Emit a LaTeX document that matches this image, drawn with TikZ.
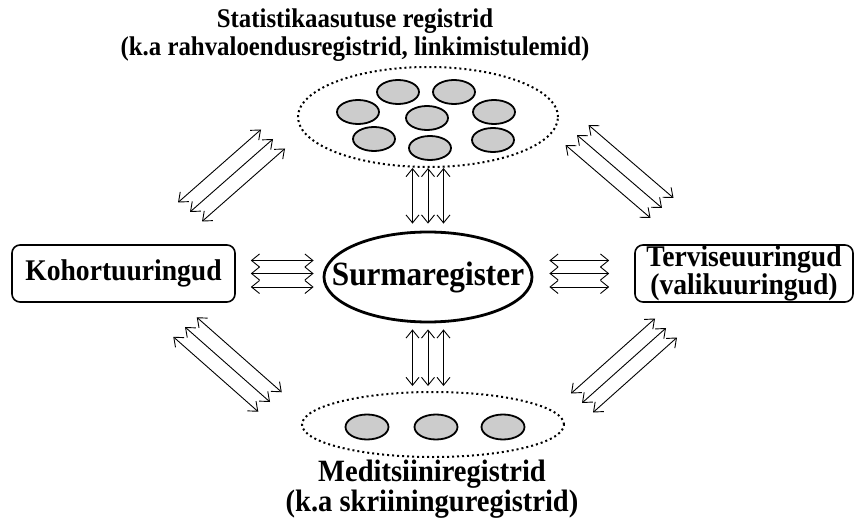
\documentclass[tikz,border=0pt]{standalone}
\usepackage{fontspec}
\setmainfont{Liberation Serif}[FakeStretch=0.92]
\usepackage{tikz}
\usetikzlibrary{arrows.meta, shapes.geometric, positioning, calc}

\begin{document}
\begin{tikzpicture}[x=1pt, y=-1pt, >={Straight Barb[length=8pt,width=13pt]},
    pool/.style={ellipse, draw, dash pattern=on 2pt off 3pt, line width=2pt, inner sep=0pt},
    reg/.style={ellipse, draw, line width=1.8pt, fill=gray!40, minimum width=42pt, minimum height=24pt, inner sep=0pt},
    study/.style={draw, line width=1.6pt, rounded corners=8pt, inner sep=0pt, align=center, font=\bfseries\fontsize{30}{24}\selectfont},
    link/.style={<->, line width=0.9pt}]

        %\draw[help lines] (0, 0) grid (856, 518);
        \useasboundingbox (0, 0) rectangle (856, 518);

        \node[align=center, font=\bfseries\fontsize{27}{28}\selectfont] (stattitle) at (355, 35) {Statistikaasutuse registrid\\(k.a rahvaloendusregistrid, linkimistulemid)};
        \node[pool, minimum width=260pt, minimum height=100pt] (stat) at (428, 117) {};
        \foreach \p in {(398,92), (454,92), (358,112), (427,118), (494,112), (374,139), (430,148), (493,140)}
            \node[reg] at \p {};

        \node[ellipse, draw, line width=2.8pt, minimum width=208pt, minimum height=90pt, inner sep=0pt, font=\bfseries\fontsize{34}{36}\selectfont] (surm) at (428, 277) {\makebox[0pt]{Surmaregister}};

        \node[study, minimum width=223pt, minimum height=57pt] (kohort) at (123.5, 273.5) {Kohortuuringud};
        \node[study, minimum width=218pt, minimum height=57pt] (tervis) at (744, 273.5) {Terviseuuringud\\(valikuuringud)};

        \node[pool, minimum width=262pt, minimum height=65pt] (med) at (433, 424.5) {};
        \foreach \p in {(367,427), (436,427), (503,427)}
            \node[reg, minimum width=43pt, minimum height=25pt] at \p {};
        \node[align=center, font=\bfseries\fontsize{31}{30}\selectfont] (medtitle) at (432, 489) {Meditsiiniregistrid\\(k.a skriininguregistrid)};

        % vertical
        \foreach \d in {-15.5, 0, 15.5} {
            \draw[link, shorten >=7pt] ([xshift=\d pt]stat.south) -- ([xshift=\d pt]surm.north);
            \draw[link, shorten <=6pt, shorten >=5pt] ([xshift=\d pt]surm.south) -- ([xshift=\d pt]surm.south |- med.north);
        }

        % horizontal
        \foreach \d in {13, 0, -13.5} {
            \draw[link, shorten <=15pt, shorten >=9pt] ([yshift=\d pt]kohort.east) -- ([yshift=\d pt]kohort.east -| surm.west);
            \draw[link, shorten <=16pt, shorten >=25pt] ([yshift=\d pt]kohort.east -| surm.east) -- ([yshift=\d pt]kohort.east -| tervis.west);
        }

        % diagonal
        \coordinate (tla) at (190, 212); \coordinate (tlb) at (273, 139);
        \coordinate (tra) at (577, 135); \coordinate (trb) at (662, 208);
        \coordinate (bla) at (185, 327); \coordinate (blb) at (270, 402);
        \coordinate (bra) at (666, 328); \coordinate (brb) at (582, 403);
        \foreach \s in {-1, 0, 1} {
            \draw[link] ([shift={(\s*12, \s*9.5)}]tla) -- ([shift={(\s*12, \s*9.5)}]tlb);
            \draw[link] ([shift={(-\s*11.5, \s*10)}]tra) -- ([shift={(-\s*11.5, \s*10)}]trb);
            \draw[link] ([shift={(-\s*11.75, \s*9.75)}]bla) -- ([shift={(-\s*11.75, \s*9.75)}]blb);
            \draw[link] ([shift={(\s*11, \s*9.5)}]bra) -- ([shift={(\s*11, \s*9.5)}]brb);
        }
\end{tikzpicture}
\end{document}
